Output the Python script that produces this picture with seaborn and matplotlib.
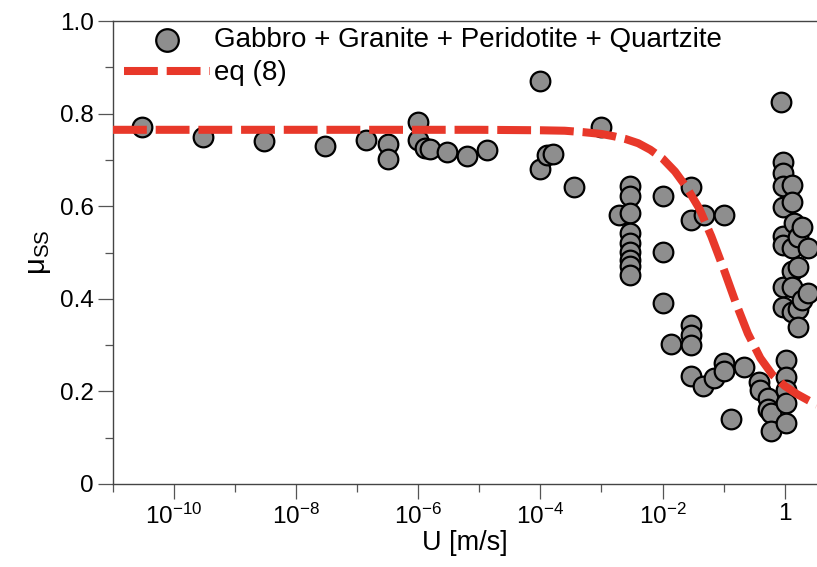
import numpy as np
import pandas as pd
import matplotlib
matplotlib.use("Agg")
import matplotlib.pyplot as plt
import matplotlib.ticker as mticker
import seaborn as sns

# slip rate U [m/s] and steady-state friction
u_data = [
    3.0e-11, 3.0e-10, 3.0e-9, 3.0e-8,
    1.4e-7, 3.2e-7, 3.2e-7, 1.0e-6, 1.0e-6, 1.3e-6, 1.55e-6, 2.9e-6, 6.3e-6, 1.35e-5,
    1.0e-4, 1.0e-4, 1.3e-4, 1.6e-4, 3.6e-4, 1.0e-3,
    1.95e-3, 2.9e-3, 2.9e-3, 2.9e-3, 2.9e-3, 2.9e-3, 2.9e-3, 2.9e-3, 2.9e-3, 2.9e-3,
    1.0e-2, 1.0e-2, 1.0e-2, 1.4e-2,
    2.9e-2, 2.9e-2, 2.9e-2, 2.9e-2, 2.9e-2, 2.9e-2,
    4.6e-2, 4.8e-2, 7.1e-2, 0.1, 0.1, 0.1, 0.13, 0.22,
    0.38, 0.40, 0.54, 0.54, 0.59, 0.60,
    1.05, 1.05, 1.05, 1.05, 1.05,
    0.87, 0.93, 0.93, 0.93, 0.93, 0.93, 0.93, 0.93, 0.93,
    1.3, 1.3, 1.3, 1.3, 1.3, 1.3,
    1.45, 1.65, 1.65, 1.65, 1.65, 1.9, 1.9, 2.4, 2.4,
]
mu_data = [
    0.772, 0.750, 0.741, 0.730,
    0.743, 0.734, 0.701, 0.781, 0.743, 0.725, 0.723, 0.716, 0.709, 0.721,
    0.870, 0.680, 0.711, 0.712, 0.641, 0.772,
    0.581, 0.644, 0.622, 0.585, 0.543, 0.521, 0.502, 0.484, 0.471, 0.451,
    0.621, 0.502, 0.392, 0.302,
    0.641, 0.570, 0.343, 0.322, 0.300, 0.233,
    0.212, 0.582, 0.230, 0.581, 0.262, 0.243, 0.140, 0.253,
    0.221, 0.203, 0.185, 0.163, 0.153, 0.114,
    0.268, 0.232, 0.203, 0.174, 0.131,
    0.826, 0.696, 0.671, 0.644, 0.599, 0.535, 0.516, 0.426, 0.383,
    0.646, 0.608, 0.509, 0.459, 0.426, 0.372,
    0.563, 0.534, 0.469, 0.379, 0.340, 0.556, 0.397, 0.509, 0.412,
]

# eq (8) curve
u_eq = [1e-11, 1e-5, 1e-4, 2.5e-4, 5.0e-4, 1.0e-3, 1.6e-3, 2.5e-3, 4.0e-3,
        6.3e-3, 1.0e-2, 1.6e-2, 2.5e-2, 4.0e-2, 6.3e-2, 0.1, 0.16, 0.25,
        0.4, 0.63, 1.0, 1.6, 2.5, 3.39]
mu_eq = [0.765, 0.765, 0.764, 0.763, 0.760, 0.756, 0.751, 0.745, 0.736,
         0.722, 0.703, 0.675, 0.640, 0.595, 0.535, 0.465, 0.390, 0.325,
         0.272, 0.236, 0.212, 0.194, 0.180, 0.171]

x_ticks = [1e-10, 1e-8, 1e-6, 1e-4, 1e-2, 1]
x_ticklabels = ["10$^{-10}$", "10$^{-8}$", "10$^{-6}$", "10$^{-4}$", "10$^{-2}$", "1"]
y_ticks = [0, 0.2, 0.4, 0.6, 0.8, 1.0]
y_ticklabels = ["0", "0.2", "0.4", "0.6", "0.8", "1.0"]

sns.set_style("ticks")
plt.rcParams["font.family"] = ["Liberation Sans", "DejaVu Sans"]
plt.rcParams["mathtext.fontset"] = "custom"
plt.rcParams["mathtext.rm"] = "Liberation Sans"
plt.rcParams["mathtext.default"] = "regular"
plt.rcParams["text.color"] = "black"
plt.rcParams["axes.labelcolor"] = "black"
plt.rcParams["xtick.labelcolor"] = "black"
plt.rcParams["ytick.labelcolor"] = "black"

pts = pd.DataFrame({"U": u_data, "mu": mu_data})
curve = pd.DataFrame({"U": u_eq, "mu": mu_eq})

fig = plt.figure(figsize=(8.17, 5.67), dpi=100)
ax = fig.add_axes([113 / 817, 1 - 484 / 567, (817 - 113) / 817, (484 - 21) / 567])

sns.scatterplot(data=pts, x="U", y="mu", ax=ax, s=200, color="#8e8e8e",
                edgecolor="black", linewidth=1.6, zorder=2,
                label="Gabbro + Granite + Peridotite + Quartzite")
sns.lineplot(data=curve, x="U", y="mu", ax=ax, color="#e8382a", lw=5.8,
             linestyle=(0, (4.2, 1.1)), zorder=3, label="eq (8)")

ax.set_xscale("log")
ax.set_xlim(1e-11, 3.39)
ax.set_ylim(0, 1)

ax.set_xticks(x_ticks)
ax.set_xticklabels(x_ticklabels)
ax.xaxis.set_minor_locator(mticker.FixedLocator([1e-11, 1e-9, 1e-7, 1e-5, 1e-3, 1e-1]))
ax.xaxis.set_minor_formatter(mticker.NullFormatter())
ax.set_yticks(y_ticks)
ax.set_yticklabels(y_ticklabels)
ax.yaxis.set_minor_locator(mticker.FixedLocator([0.1, 0.3, 0.5, 0.7, 0.9]))

ax.tick_params(which="major", direction="out", length=11, width=0.9,
               color="#555555", labelsize=17.5, pad=3)
ax.tick_params(which="minor", direction="out", length=5.5, width=0.9, color="#555555")
for side in ["left", "bottom", "top"]:
    ax.spines[side].set_color("#444444")
    ax.spines[side].set_linewidth(1.0)
ax.spines["right"].set_visible(False)

ax.set_xlabel("U [m/s]", fontsize=19.5, labelpad=1)
ax.set_ylabel("μ$_{SS}$", fontsize=21, labelpad=5)

ax.legend(loc="upper left", bbox_to_anchor=(0.0, 1.01), frameon=False,
          fontsize=20, handlelength=3.1, handletextpad=0.15, borderaxespad=0,
          labelspacing=0.25, markerscale=1.15)

fig.savefig("out.png", dpi=100)
